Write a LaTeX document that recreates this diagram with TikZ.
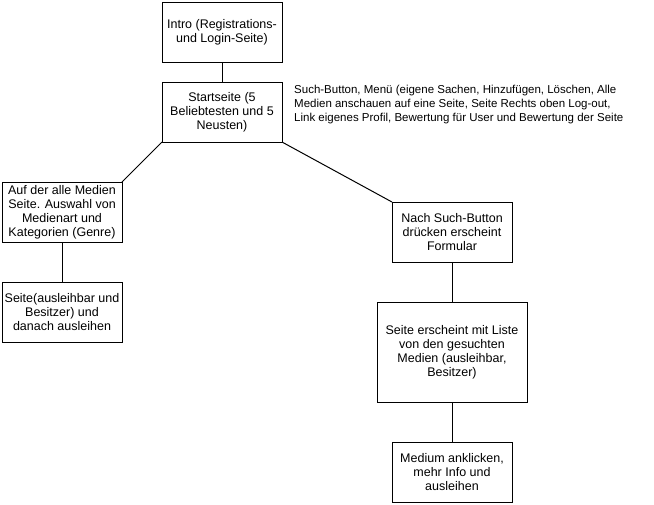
\documentclass[tikz,border=0pt]{standalone}
\usepackage{fontspec}
\setmainfont{Liberation Sans}
\usetikzlibrary{positioning}

\begin{document}
\begin{tikzpicture}[
    node distance=40pt and 40pt,
    page/.style={rectangle, draw, line width=1pt, minimum width=120pt, minimum height=60pt,
                 inner sep=1pt, outer sep=0pt, align=center, font=\fontsize{12.5}{14}\selectfont},
    note/.style={align=left, inner sep=0pt, font=\fontsize{11.5}{14}\selectfont},
    link/.style={line width=1pt},
]
\useasboundingbox (0,0) rectangle (654pt,-504pt);

% Start of the site
\node[page] (intro) at (222pt,-32pt) {Intro (Registrations-\\und Login-Seite)};
\node[page, below=20pt of intro] (start) {Startseite (5\\Beliebtesten und 5\\Neusten)};
\node[note, anchor=north west] (menu) at ([xshift=12pt,yshift=-3pt]start.north east)
    {Such-Button, Menü (eigene Sachen, Hinzufügen, Löschen, Alle\\
     Medien anschauen auf eine Seite, Seite Rechts oben Log-out,\\
     Link eigenes Profil, Bewertung für User und Bewertung der Seite};

% All media (left side)
\node[page, below left=40pt and 40pt of start] (alle) {Auf der alle Medien\\Seite. Auswahl von\\Medienart und\\Kategorien (Genre)};
\node[page, below=of alle] (seite) {Seite(ausleihbar und\\Besitzer) und\\danach ausleihen};

% Search (right side)
\node[page, below right=60pt and 110pt of start] (suche) {Nach Such-Button\\drücken erscheint\\Formular};
\node[page, minimum width=150pt, minimum height=100pt, below=of suche] (liste) {Seite erscheint mit Liste\\von den gesuchten\\Medien (ausleihbar,\\Besitzer)};
\node[page, below=of liste] (medium) {Medium anklicken,\\mehr Info und\\ausleihen};

% Connections
\draw[link] (intro) -- (start);
\draw[link] (start.south west) -- (alle.north east);
\draw[link] (start.south east) -- (suche.north west);
\draw[link] (alle) -- (seite);
\draw[link] (suche) -- (liste);
\draw[link] (liste) -- (medium);
\end{tikzpicture}
\end{document}
